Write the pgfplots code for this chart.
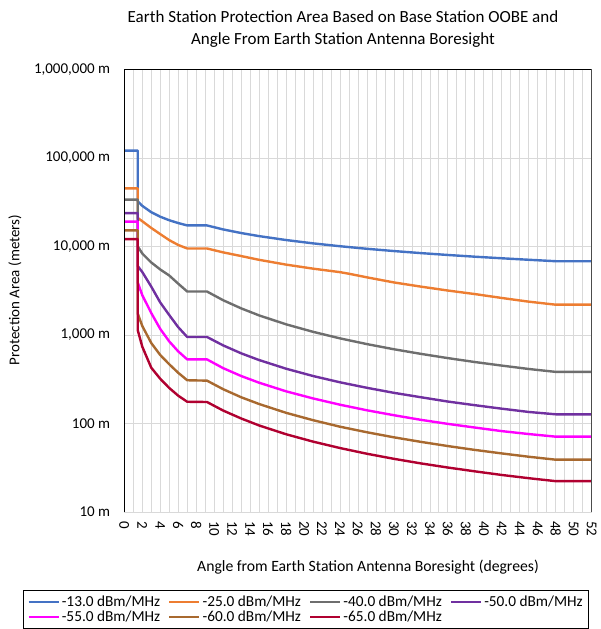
\documentclass[border=0pt]{standalone}
\usepackage{pgfplots}
\pgfplotsset{compat=1.18}
\usepackage{fontspec}
\setmainfont{Carlito}
\definecolor{c13}{HTML}{4472C4}
\definecolor{c25}{HTML}{ED7D31}
\definecolor{c40}{HTML}{6E6E6E}
\definecolor{c50}{HTML}{7030A0}
\definecolor{c55}{HTML}{FF00FF}
\definecolor{c60}{HTML}{A8692F}
\definecolor{c65}{HTML}{B00030}
\definecolor{gridc}{HTML}{D9D9D9}
\begin{document}
\begin{tikzpicture}[x=1pt,y=1pt]
\path[use as bounding box] (0,0) rectangle (601,629);
\begin{axis}[
  name=ax,
  at={(124.3pt,117pt)}, anchor=south west,
  scale only axis, width=467.4pt, height=442.5pt,
  xmin=0, xmax=52, ymode=log, ymin=10, ymax=1000000,
  xtick={0,2,...,52}, minor x tick num=1,
  ytick={10,100,1000,10000,100000,1000000},
  yticklabels={{10 m},{100 m},{1,000 m},{10,000 m},{100,000 m},{1,000,000 m}},
  yminorticks=false,
  xmajorgrids=true, xminorgrids=true, ymajorgrids=true,
  major grid style={draw=gridc, line width=0.8pt},
  minor grid style={draw=gridc, line width=0.8pt},
  major tick length=0pt, minor tick length=0pt,
  axis line style={draw=none},
  /pgf/number format/assume math mode=true,
  tick label style={font=\fontsize{15}{18}\selectfont},
  xticklabel style={rotate=-90, anchor=west, inner sep=0pt, xshift=9pt},
  yticklabel style={anchor=east, inner sep=0pt, xshift=-14pt},
  legend columns=4,
  legend cell align=left,
  legend style={at={(-0.2167,-0.1770)}, anchor=north west, draw=black, line width=0.8pt,
    font=\fontsize{15.3}{18}\selectfont, inner xsep=4pt, inner ysep=4pt,
    nodes={inner xsep=2pt, inner ysep=1pt},
    /tikz/row sep=1pt,
    /tikz/every even column/.append style={column sep=6pt}},
  legend image code/.code={\draw[#1, line width=2.4pt] (0pt,0pt) -- (30pt,0pt);},
  every axis plot/.append style={line width=2.4pt, line join=round, no markers},
]
\addplot[c13] coordinates {(0,121000)(1.5,121000)(1.5,32400)(2,28800)(3,24400)(4,21700)(5,19800)(6,18400)(7,17300)(9.2,17300)(11,15580)(13,14190)(15,13100)(18,11830)(21,10850)(24,10070)(27,9420)(30,8880)(33,8420)(36,8020)(39,7670)(42,7360)(45,7080)(48,6820)(52,6820)};
\addlegendentry{-13.0 dBm/MHz}
\addplot[c25] coordinates {(0,45400)(1.5,45400)(1.5,21000)(2,19300)(3,16200)(4,13800)(5,11800)(6,10400)(7,9500)(9.2,9500)(11,8580)(13,7800)(15,7070)(18,6240)(21,5620)(24,5130)(25,4920)(27,4480)(30,3925)(33,3520)(36,3180)(39,2900)(42,2620)(45,2380)(48,2200)(52,2200)};
\addlegendentry{-25.0 dBm/MHz}
\addplot[c40] coordinates {(0,33900)(1.5,33900)(1.5,10000)(2,8340)(3,6600)(4,5500)(5,4700)(6,3800)(7,3100)(9.2,3100)(11,2470)(13,2000)(15,1665)(18,1320)(21,1086)(24,916)(27,789)(30,690)(33,612)(36,548)(39,495)(42,451)(45,413)(48,383)(52,383)};
\addlegendentry{-40.0 dBm/MHz}
\addplot[c50] coordinates {(0,23800)(1.5,23800)(1.5,6000)(2,5150)(3,3520)(4,2330)(5,1680)(6,1225)(7,950)(9.2,950)(11,763)(13,621)(15,521)(18,416)(21,344)(24,292)(27,253)(30,222)(33,198)(36,177)(39,161)(42,147)(45,135)(48,127)(52,127)};
\addlegendentry{-50.0 dBm/MHz}
\addplot[c55] coordinates {(0,19100)(1.5,19100)(1.5,3900)(2,2820)(3,1770)(4,1170)(5,846)(6,653)(7,530)(9.2,530)(11,422)(13,344)(15,289)(18,231)(21,192)(24,163)(27,141)(30,124)(33,110)(36,99)(39,90)(42,82)(45,76)(48,71)(52,71)};
\addlegendentry{-55.0 dBm/MHz}
\addplot[c60] coordinates {(0,15200)(1.5,15200)(1.5,1740)(2,1265)(3,811)(4,594)(5,467)(6,374)(7,308)(9.2,305)(11,244)(13,198)(15,166)(18,132)(21,109)(24,92)(27,79.6)(30,69.8)(33,62)(36,55.6)(39,50.3)(42,45.9)(45,42.1)(48,39)(52,39)};
\addlegendentry{-60.0 dBm/MHz}
\addplot[c65] coordinates {(0,12100)(1.5,12100)(1.5,1130)(2,738)(3,427)(4,320)(5,252)(6,206)(7,176)(9.2,175)(11,140)(13,114)(15,95)(18,75.6)(21,62.4)(24,52.8)(27,45.5)(30,39.9)(33,35.4)(36,31.8)(39,28.8)(42,26.2)(45,24.1)(48,22.3)(52,22.3)};
\addlegendentry{-65.0 dBm/MHz}
\end{axis}
\draw[black, line width=1pt] (ax.south west) -- (ax.north west) -- (ax.north east);
\draw[black!70, line width=1.5pt] (ax.north east) -- (ax.south east);
\node[align=center, font=\fontsize{17}{22}\selectfont] at (343,600) {Earth Station Protection Area Based on Base Station OOBE and\\Angle From Earth Station Antenna Boresight};
\node[rotate=90, font=\fontsize{15}{18}\selectfont] at (15,339) {Protection Area (meters)};
\node[font=\fontsize{15.7}{18}\selectfont] at (368,62) {Angle from Earth Station Antenna Boresight (degrees)};
\end{tikzpicture}
\end{document}
